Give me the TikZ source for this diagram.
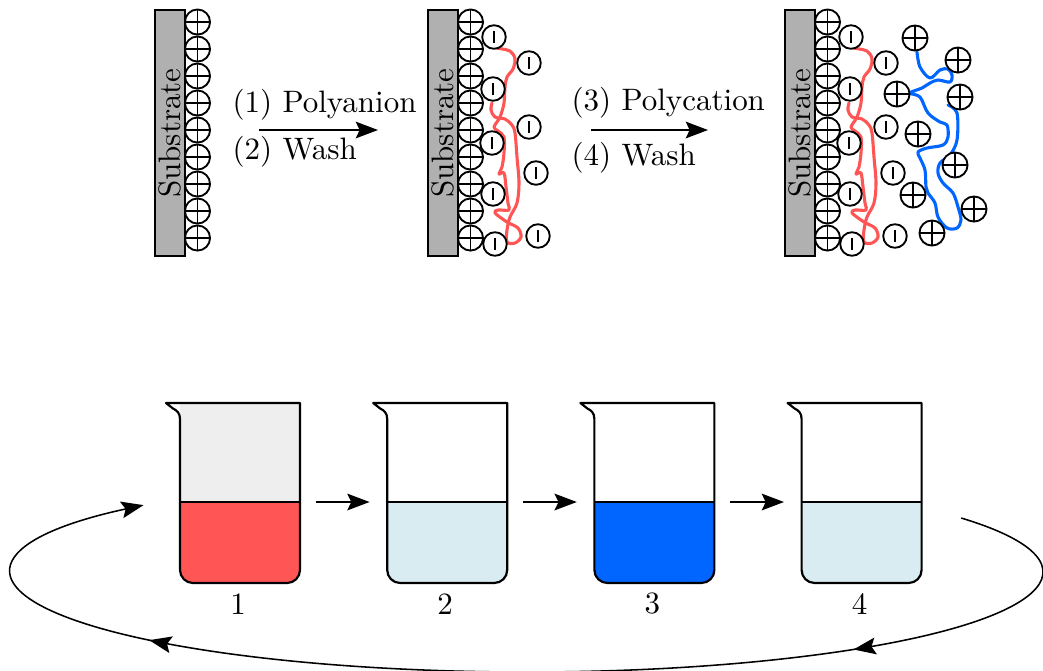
\documentclass[tikz,border=0pt]{standalone}
\usetikzlibrary{arrows.meta,decorations.markings}

\definecolor{anion}{RGB}{255,85,85}
\definecolor{cation}{RGB}{0,102,255}
\definecolor{rinse}{RGB}{216,236,242}
\definecolor{air}{RGB}{238,238,238}
\definecolor{slab}{RGB}{176,176,176}

\tikzset{
  substrate/.style={draw, fill=slab, line width=0.6pt, rotate=90,
    minimum width=79.4pt, minimum height=9.7pt, inner sep=0pt},
  ion/.style={circle, draw, fill=white, line width=0.6pt, inner sep=0pt},
  plusion/.style={ion, minimum size=8.1pt,
    path picture={\draw[line width=0.55pt]
      (path picture bounding box.north) -- (path picture bounding box.south)
      (path picture bounding box.east) -- (path picture bounding box.west);}},
  minusion/.style={ion, minimum size=7.6pt,
    path picture={\draw[line width=0.7pt]
      ([yshift=1.8pt]path picture bounding box.center) --
      ([yshift=-1.8pt]path picture bounding box.center);}},
  polymer/.style={line width=1pt, line join=round, line cap=round},
  bigtip/.style={-{Stealth[length=7.2pt,width=5.4pt,inset=1.3pt]}},
  flowarrow/.style={bigtip, line width=0.5pt},
  beakerline/.style={line width=0.7pt, line join=round},
  beakerbody/.style={inner sep=0pt, minimum width=38.7pt, minimum height=58.1pt},
  steptext/.style={inner sep=0pt, anchor=west},
}

% substrate slab with its layer of positive charges
\newcommand\ionpanel[2]{%
  \begin{scope}[shift={(#2,0)}]
    \node[substrate] (#1sub) at (15,133) {Substrate};
    \foreach \k in {0,...,8}
      \node[plusion] (#1plus\k) at (42.5,{22+27*\k}) {};
  \end{scope}}

% adsorbed polyanion chain with its negative charges
\newcommand\anionlayer[2]{%
  \begin{scope}[shift={(#2,0)}]
    \draw[polymer, anion] plot[smooth, tension=0.55] coordinates {
      (68,48) (82,51) (87,59) (85,69) (79,77) (77,87) (76,103) (72,117)
      (66,127) (70,131) (76,137) (76,153) (74,167) (71,174) (76,173)
      (78,187) (80,203) (81,210) (70,210) (67,213) (79,222) (90,228)
      (93,237) (87,243) (79,242) (79,230) (82,217) (89,203) (91,183)
      (89,157) (87,133) (84,125) (77,119) (67,117) (63,110) (64,103)};
    \foreach \x/\y [count=\i] in {66/37, 101/63, 65/89, 101/127, 64/143,
        108/173, 65/194, 110/236, 67/244}
      \node[minusion] (#1minus\i) at (\x,\y) {};
  \end{scope}}

% beaker: name, left wall, fill above the liquid, liquid, label
\newcommand\beaker[5]{%
  \begin{scope}[shift={(#2,403)}]
    \fill[#3] (0,0) rectangle (120,99);
    \fill[#4] (0,99) -- (120,99) -- (120,167)
      arc[start angle=0, end angle=90, radius=13] -- (13,180)
      arc[start angle=90, end angle=180, radius=13] -- cycle;
    \draw[line width=0.45pt] (0,99) -- (120,99);
    \draw[beakerline] (-14,0) -- (120,0) -- (120,167)
      arc[start angle=0, end angle=90, radius=13] -- (13,180)
      arc[start angle=90, end angle=180, radius=13] -- (0,16)
      .. controls (0,10) and (-3,7.5) .. (-7,5.5) -- cycle;
    \node[beakerbody] (#1) at (60,90) {};
    \node[inner sep=0pt] (#1label) at (58,201) {#5};
  \end{scope}}

\begin{document}
\begin{tikzpicture}[x=0.3226pt, y=-0.3226pt]
\useasboundingbox (0,0) rectangle (1043,670);

% bare charged surface
\ionpanel{a}{155}

% after the polyanion step
\ionpanel{b}{428}
\anionlayer{b}{428}

% after the polycation step
\ionpanel{c}{785}
\anionlayer{c}{785}
\begin{scope}[shift={(785,0)}]
  \draw[polymer, cation] plot[smooth, tension=0.55] coordinates {
    (132,52) (135,67) (145,78) (155,70) (163,69) (167,75) (165,82)
    (153,80) (145,83) (137,88) (125,93) (135,97) (143,113) (155,122)
    (162,125) (163,137) (158,145) (142,148) (133,152) (135,158)
    (140,170) (141,187) (143,193) (150,203) (153,217) (162,228)
    (172,228) (176,220) (173,207) (168,193) (158,183) (153,173)
    (155,163) (165,155) (172,140) (172,113) (163,105)};
  \foreach \x/\y [count=\i] in {130/38, 173/60, 112/94, 175/97, 133/134,
      170/165, 128/195, 189/209, 147/233}
    \node[plusion] (ccat\i) at (\x,\y) {};
\end{scope}

% reaction steps
\coordinate (r1s) at (259,130);
\coordinate (r1e) at (378,130);
\draw[flowarrow] (r1s) -- (r1e);
\node[steptext] (r1top) at (232,105) {(1) Polyanion};
\node[steptext] (r1bot) at (232,152) {(2) Wash};

\coordinate (r2s) at (591,130);
\coordinate (r2e) at (708,130);
\draw[flowarrow] (r2s) -- (r2e);
\node[steptext] (r2top) at (571,103) {(3) Polycation};
\node[steptext] (r2bot) at (571,158) {(4) Wash};

% dipping sequence
\beaker{b1}{180}{air}{anion}{1}
\beaker{b2}{387.2}{white}{rinse}{2}
\beaker{b3}{594.4}{white}{cation}{3}
\beaker{b4}{801.6}{white}{rinse}{4}

\foreach \a/\b in {b1/b2, b2/b3, b3/b4}
  \draw[flowarrow] ([shift={(15,9)}]\a.east) -- ([shift={(-17,9)}]\b.west);

% return loop from the last beaker to the first
\coordinate (loopstart) at (961.2,518);
\draw[flowarrow, postaction={decorate}, decoration={markings,
    mark=at position 0.236 with {\arrow{Stealth[length=7.2pt,width=5.4pt,inset=1.3pt]}},
    mark=at position 0.764 with {\arrow{Stealth[length=7.2pt,width=5.4pt,inset=1.3pt]}}}]
  (loopstart) arc[start angle=-32.7, end angle=222, x radius=516, y radius=100];
\end{tikzpicture}
\end{document}
